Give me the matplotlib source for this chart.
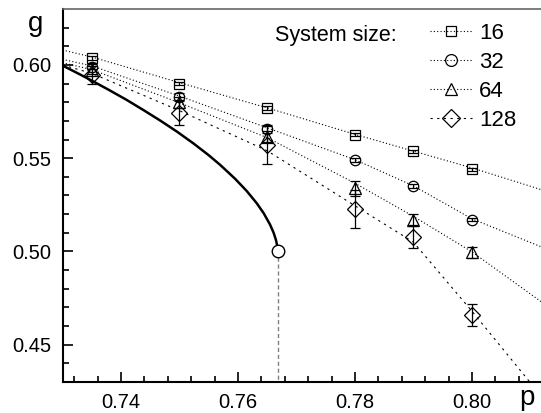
import matplotlib
matplotlib.use("Agg")
import matplotlib.pyplot as plt
from matplotlib.lines import Line2D

plt.rcParams['font.family'] = ['Liberation Sans', 'DejaVu Sans']

# ---- data ----
p_vals = [0.735, 0.75, 0.765, 0.78, 0.79, 0.80]
g16 = [0.6036, 0.5900, 0.5768, 0.5625, 0.5538, 0.5441]
e16 = [0.0010, 0.0010, 0.0010, 0.0008, 0.0008, 0.0008]
g32 = [0.5991, 0.5828, 0.5656, 0.5491, 0.5352, 0.5170]
e32 = [0.0015, 0.0020, 0.0020, 0.0010, 0.0010, 0.0008]
g64 = [0.5973, 0.5800, 0.5616, 0.5339, 0.5170, 0.4995]
e64 = [0.0020, 0.0030, 0.0030, 0.0040, 0.0030, 0.0030]
g128 = [0.5946, 0.5745, 0.5571, 0.5227, 0.5077, 0.4658]
e128 = [0.0050, 0.0065, 0.0100, 0.0100, 0.0060, 0.0060]

# fit lines
fit_p = [0.730, 0.735, 0.750, 0.765, 0.780, 0.790, 0.800, 0.812]
fit16 = [0.6080, 0.6043, 0.5905, 0.5770, 0.5628, 0.5538, 0.5448, 0.5330]
fit32 = [0.6030, 0.5995, 0.5833, 0.5663, 0.5492, 0.5352, 0.5175, 0.5023]
fit64 = [0.6012, 0.5975, 0.5797, 0.5610, 0.5366, 0.5188, 0.4998, 0.4727]
fit128_p = [0.730, 0.735, 0.750, 0.765, 0.780, 0.790, 0.800, 0.8099]
fit128 = [0.6000, 0.5955, 0.5755, 0.5540, 0.5245, 0.5050, 0.4680, 0.4300]

# solid boundary curve
curve_p = [0.7300, 0.7330, 0.7353, 0.7380, 0.7410, 0.7440, 0.7467, 0.7495, 0.7524,
           0.7550, 0.7570, 0.7595, 0.7615, 0.7632, 0.7644, 0.7655, 0.7661, 0.7665,
           0.7667, 0.7668]
curve_g = [0.5997, 0.5949, 0.5911, 0.5865, 0.5812, 0.5755, 0.5702, 0.5644, 0.5579,
           0.5516, 0.5463, 0.5390, 0.5324, 0.5259, 0.5205, 0.5143, 0.5100, 0.5061,
           0.5032, 0.5000]
end_p = 0.7668
end_g = 0.500

sizes = ['16', '32', '64', '128']

fig = plt.figure(figsize=(5.41, 4.13), dpi=100)
ax = fig.add_axes([62.5/541, 31/413, 1 - 62.5/541 + 0.002, 373/413])

dot = (0, (1, 2))
dash128 = (0, (2, 4))

ax.plot(fit_p, fit16, color='black', lw=0.8, ls=dot, zorder=2)
ax.plot(fit_p, fit32, color='black', lw=0.8, ls=dot, zorder=2)
ax.plot(fit_p, fit64, color='black', lw=0.8, ls=dot, zorder=2)
ax.plot(fit128_p, fit128, color='black', lw=0.8, ls=dash128, zorder=2)

ax.plot(curve_p, curve_g, color='black', lw=1.8, zorder=3, solid_joinstyle='round')
ax.plot([end_p, end_p], [0.40, end_g], color='gray', lw=1.0, ls=(0, (3, 2)), zorder=1)
ax.plot([end_p], [end_g], marker='o', ms=9, mfc='white', mec='black', mew=1.0, zorder=5)

series = [(g16, e16, 's', 6.5), (g32, e32, 'o', 7.5), (g64, e64, '^', 8), (g128, e128, 'D', 8.3)]
for g, e, m, ms in series:
    ax.errorbar(p_vals, g, yerr=e, fmt=m, ms=ms, mfc='none', mec='black', mew=0.9,
                ecolor='black', elinewidth=0.9, capsize=3.5, capthick=0.9, zorder=4)

ax.set_xlim(0.73, 0.812)
ax.set_ylim(0.43, 0.63)
ax.set_xticks([0.74, 0.76, 0.78, 0.80])
ax.set_xticks([0.732 + 0.004 * i for i in range(20) if 0.732 + 0.004 * i < 0.812], minor=True)
ax.set_yticks([0.45, 0.50, 0.55, 0.60])
ax.set_yticks([0.44 + 0.01 * i for i in range(19)], minor=True)
ax.set_xticklabels(['0.74', '0.76', '0.78', '0.80'])
ax.set_yticklabels(['0.45', '0.50', '0.55', '0.60'])
ax.tick_params(which='both', direction='in', top=False, right=False, labelsize=14.5, width=1.2)
ax.tick_params(which='major', length=7, pad=8)
ax.tick_params(which='minor', length=4)
for s in ['left', 'bottom']:
    ax.spines[s].set_linewidth(1.5)
ax.spines['top'].set_color('#666666')
ax.spines['top'].set_linewidth(1.2)
ax.spines['right'].set_visible(False)

fig.text(36/541, 1 - 24/413, 'g', fontsize=20, ha='center', va='center')
fig.text(527/541, 1 - 398/413, 'p', fontsize=20, ha='center', va='center')

handles = []
for m, ms, ls in [('s', 7.5, dot), ('o', 8.5, dot), ('^', 9, dot), ('D', 9, dash128)]:
    handles.append(Line2D([], [], color='black', lw=0.8, ls=ls, marker=m, ms=ms,
                          mfc='none', mec='black', mew=0.9))
leg = ax.legend(handles, sizes, loc='upper left', bbox_to_anchor=(430/541, 1 - 23/413),
                bbox_transform=fig.transFigure, frameon=False, fontsize=16,
                handlelength=1.9, handletextpad=0.3, labelspacing=0.36, borderaxespad=0,
                borderpad=0, numpoints=1)
fig.text(275/541, 1 - 35/413, 'System size:', fontsize=15.5, ha='left', va='center')

fig.savefig('out.png', dpi=100)
